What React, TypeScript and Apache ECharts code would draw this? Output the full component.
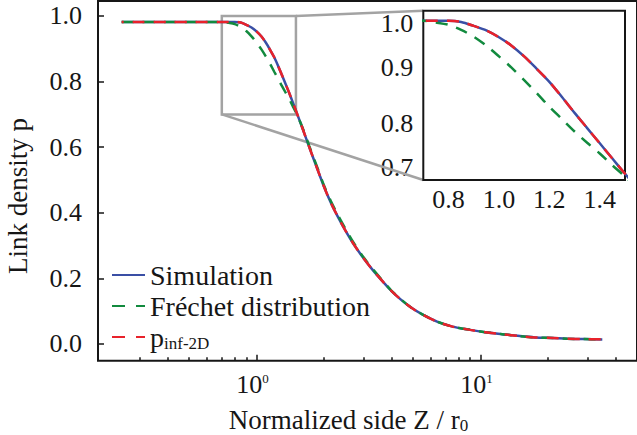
import React, { useEffect, useRef } from "react";
import * as echarts from "echarts";

// ---- data ----
const sideZ = [0.25, 0.3, 0.4, 0.5, 0.6, 0.7, 0.75, 0.8, 0.85, 0.9, 0.95, 1.0, 1.05, 1.1, 1.15, 1.2, 1.25, 1.3, 1.35, 1.4, 1.45, 1.5, 1.6, 1.72, 1.85, 2.0, 2.15, 2.3, 2.5, 2.7, 3.0, 3.3, 3.7, 4.0, 4.4, 4.9, 5.5, 6.4, 7.5, 9.0, 10.5, 12.5, 15, 17.5, 21, 24.4, 29, 35];
const simulation = [0.982, 0.982, 0.982, 0.982, 0.982, 0.982, 0.982, 0.982, 0.980, 0.973, 0.965, 0.953, 0.938, 0.919, 0.897, 0.874, 0.847, 0.819, 0.792, 0.765, 0.738, 0.711, 0.660, 0.600, 0.542, 0.480, 0.430, 0.390, 0.345, 0.307, 0.262, 0.226, 0.187, 0.162, 0.136, 0.111, 0.090, 0.068, 0.053, 0.043, 0.036, 0.030, 0.024, 0.020, 0.018, 0.016, 0.015, 0.014];
const frechet = [0.982, 0.982, 0.982, 0.982, 0.982, 0.982, 0.979, 0.975, 0.966, 0.954, 0.938, 0.919, 0.899, 0.877, 0.854, 0.830, 0.808, 0.786, 0.766, 0.747, 0.726, 0.706, 0.662, 0.604, 0.546, 0.484, 0.435, 0.395, 0.350, 0.311, 0.265, 0.229, 0.189, 0.163, 0.137, 0.111, 0.090, 0.068, 0.053, 0.043, 0.036, 0.030, 0.024, 0.020, 0.018, 0.016, 0.015, 0.014];
const pInf2D = [0.982, 0.982, 0.982, 0.982, 0.982, 0.982, 0.982, 0.982, 0.980, 0.973, 0.965, 0.953, 0.938, 0.919, 0.897, 0.874, 0.847, 0.819, 0.792, 0.765, 0.738, 0.711, 0.660, 0.600, 0.542, 0.480, 0.430, 0.390, 0.345, 0.307, 0.262, 0.226, 0.187, 0.162, 0.136, 0.111, 0.090, 0.068, 0.053, 0.043, 0.036, 0.030, 0.024, 0.020, 0.018, 0.016, 0.015, 0.014];

const seriesNames = ["Simulation", "Fréchet distribution", "p_inf-2D"];
const mainYTicks = [0, 0.2, 0.4, 0.6, 0.8, 1.0];
const mainXMajorTicks = [1, 10];
const mainXMinorTicks = [0.3, 0.4, 0.5, 0.6, 0.7, 0.8, 0.9, 2, 3, 4, 5, 6, 7, 8, 9, 20, 30, 40];
const insetXTicks = [0.8, 1.0, 1.2, 1.4];
const insetYTicks = [0.7, 0.8, 0.9, 1.0];
const zoomBox = { x0: 0.7, x1: 1.5, y0: 0.7, y1: 1.0 };
const mainXRange = [0.196, 50];
const mainYRange = [-0.051, 1.0457];

const LOG = (v: number) => Math.log10(v);
const FONT = "Liberation Serif";
const INK = "#161616";
const COLORS = ["#3a4fa5", "#128a3e", "#e8222b"];

export default function App() {
  const ref = useRef<HTMLDivElement>(null);

  useEffect(() => {
    if (!ref.current) return;
    const chart = echarts.init(ref.current, undefined, { renderer: "svg" });

    const xMin = LOG(mainXRange[0]);
    const xMax = LOG(mainXRange[1]);
    const gridLeft = 98;
    const plotWidth = 230 * (xMax - xMin);
    const gridRight = 637 - gridLeft - plotWidth;

    const values = [simulation, frechet, pInf2D];
    const mainData = values.map((arr) => sideZ.map((z, i) => [LOG(z), arr[i]]));
    const insetData = values.map((arr) => sideZ.map((z, i) => [z, arr[i]]));

    const tickLine = { color: INK, width: 1.5 };
    const labelBase = { fontFamily: FONT, fontSize: 26, color: INK };
    const noLine = { show: false, onZero: false };

    const lineSeries = (idx: number, data: any[], xi: number, yi: number, extra: any = {}) => ({
      type: "line",
      name: seriesNames[idx],
      xAxisIndex: xi,
      yAxisIndex: yi,
      data,
      symbol: "none",
      showSymbol: false,
      smooth: 0.3,
      clip: true,
      z: 3 + idx,
      lineStyle: {
        color: COLORS[idx],
        width: 2.5,
        type: idx === 0 ? "solid" : [12, 9],
        dashOffset: idx === 2 ? 10 : 0,
      },
      itemStyle: { color: COLORS[idx] },
      ...extra,
    });

    const option: any = {
      animation: false,
      backgroundColor: "#ffffff",
      grid: [
        {
          left: gridLeft,
          top: 1,
          right: gridRight,
          bottom: 435 - 360.7,
          show: true,
          borderColor: INK,
          borderWidth: 2,
          backgroundColor: "transparent",
        },
        {
          left: 423.3,
          top: 10.7,
          right: 12,
          bottom: 255,
          show: true,
          borderColor: INK,
          borderWidth: 2,
          backgroundColor: "#ffffff",
          z: 5,
        },
      ],
      xAxis: [
        {
          type: "value",
          gridIndex: 0,
          min: xMin,
          max: xMax,
          position: "bottom",
          axisLine: noLine,
          splitLine: { show: false },
          axisTick: { inside: true, length: 6, customValues: mainXMajorTicks.map(LOG), lineStyle: tickLine },
          axisLabel: {
            customValues: mainXMajorTicks.map(LOG),
            margin: 11,
            padding: [0, 8, 0, 0],
            formatter: (v: number) => `{b|10}{s|${Math.round(v)}}`,
            rich: {
              b: { ...labelBase, lineHeight: 26 },
              s: { fontFamily: FONT, fontSize: 13, color: INK, lineHeight: 14, verticalAlign: "top" },
            },
          },
        },
        {
          type: "value",
          gridIndex: 0,
          min: xMin,
          max: xMax,
          position: "bottom",
          axisLine: noLine,
          splitLine: { show: false },
          axisLabel: { show: false },
          axisTick: { inside: true, length: 3.5, customValues: mainXMinorTicks.map(LOG), lineStyle: tickLine },
        },
        {
          type: "value",
          gridIndex: 1,
          min: zoomBox.x0,
          max: zoomBox.x1,
          axisLine: noLine,
          splitLine: { show: false },
          axisTick: { inside: true, length: 5, customValues: insetXTicks, lineStyle: tickLine },
          axisLabel: {
            customValues: insetXTicks,
            margin: 6,
            ...labelBase,
            formatter: (v: number) => v.toFixed(1),
          },
        },
      ],
      yAxis: [
        {
          type: "value",
          gridIndex: 0,
          min: mainYRange[0],
          max: mainYRange[1],
          axisLine: noLine,
          splitLine: { show: false },
          axisTick: { inside: true, length: 6, customValues: mainYTicks, lineStyle: tickLine },
          axisLabel: {
            customValues: mainYTicks,
            margin: 16,
            ...labelBase,
            formatter: (v: number) => v.toFixed(1),
          },
        },
        {
          type: "value",
          gridIndex: 1,
          min: zoomBox.y0,
          max: zoomBox.y1,
          axisLine: noLine,
          splitLine: { show: false },
          axisTick: { inside: true, length: 5, customValues: insetYTicks, lineStyle: tickLine },
          axisLabel: {
            customValues: insetYTicks,
            margin: 10,
            ...labelBase,
            verticalAlignMinLabel: "bottom",
            verticalAlignMaxLabel: "top",
            formatter: (v: number) => v.toFixed(1),
          },
        },
      ],
      legend: {
        orient: "vertical",
        left: 111,
        top: 261,
        padding: 0,
        itemGap: 3,
        itemWidth: 33,
        itemHeight: 14,
        itemStyle: { opacity: 0 },
        data: [
          { name: seriesNames[0] },
          { name: seriesNames[1], lineStyle: { type: [13, 11], dashOffset: 0 } },
          { name: seriesNames[2], lineStyle: { type: [13, 11], dashOffset: 0 } },
        ],
        formatter: (n: string) => (n === "p_inf-2D" ? "{p|p}{sub|inf-2D}" : `{n|${n}}`),
        textStyle: {
          rich: {
            n: { fontFamily: FONT, fontSize: 28, lineHeight: 30, color: INK },
            p: { fontFamily: FONT, fontSize: 28, lineHeight: 30, color: INK },
            sub: { fontFamily: FONT, fontSize: 17, lineHeight: 20, color: INK, verticalAlign: "bottom" },
          },
        },
      },
      series: [
        lineSeries(0, mainData[0], 0, 0, {
          markArea: {
            silent: true,
            itemStyle: { color: "rgba(0,0,0,0)", borderColor: "#a3a3a3", borderWidth: 2.5 },
            data: [[{ coord: [LOG(zoomBox.x0), zoomBox.y0] }, { coord: [LOG(zoomBox.x1), zoomBox.y1] }]],
          },
        }),
        lineSeries(1, mainData[1], 0, 0),
        lineSeries(2, mainData[2], 0, 0),
        lineSeries(0, insetData[0], 2, 1, { z: 10 }),
        lineSeries(1, insetData[1], 2, 1, { z: 11 }),
        lineSeries(2, insetData[2], 2, 1, { z: 12 }),
      ],
    };

    chart.setOption(option);

    const boxTR = chart.convertToPixel({ xAxisIndex: 0, yAxisIndex: 0 } as any, [LOG(zoomBox.x1), zoomBox.y1]) as number[];
    const boxBL = chart.convertToPixel({ xAxisIndex: 0, yAxisIndex: 0 } as any, [LOG(zoomBox.x0), zoomBox.y0]) as number[];
    const insTL = chart.convertToPixel({ xAxisIndex: 2, yAxisIndex: 1 } as any, [zoomBox.x0, zoomBox.y1]) as number[];
    const insBL = chart.convertToPixel({ xAxisIndex: 2, yAxisIndex: 1 } as any, [zoomBox.x0, zoomBox.y0]) as number[];

    chart.setOption({
      graphic: [
        {
          type: "text",
          x: 17.5,
          y: 196,
          rotation: Math.PI / 2,
          style: {
            text: "Link density p",
            fontFamily: FONT,
            fontSize: 27,
            fill: INK,
            align: "center",
            verticalAlign: "middle",
          },
        },
        {
          type: "text",
          x: 348.5,
          y: 420,
          style: {
            text: "{a|Normalized side Z / r}{s|0}",
            align: "center",
            verticalAlign: "middle",
            rich: {
              a: { fontFamily: FONT, fontSize: 27, lineHeight: 27, fill: INK },
              s: { fontFamily: FONT, fontSize: 17, lineHeight: 18, fill: INK, verticalAlign: "bottom" },
            },
          },
        },
        {
          type: "line",
          z: 1,
          shape: { x1: boxTR[0], y1: boxTR[1], x2: insTL[0], y2: insTL[1] },
          style: { stroke: "#a3a3a3", lineWidth: 2.5 },
        },
        {
          type: "line",
          z: 1,
          shape: { x1: boxBL[0], y1: boxBL[1], x2: insBL[0], y2: insBL[1] },
          style: { stroke: "#a3a3a3", lineWidth: 2.5 },
        },
      ],
    });

    return () => chart.dispose();
  }, []);

  return (
    <div
      ref={ref}
      style={{ position: "absolute", left: 0, top: 0, width: 637, height: 435, background: "#fff" }}
    />
  );
}
